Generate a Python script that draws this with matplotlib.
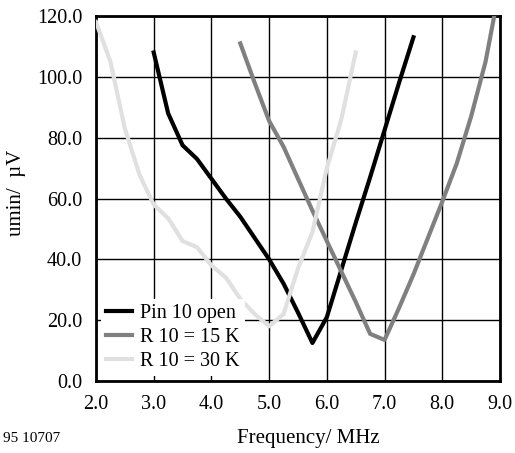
import numpy as np
import matplotlib
matplotlib.use('Agg')
from matplotlib import pyplot as plt

plt.rcParams['font.family'] = ['Liberation Serif', 'DejaVu Serif']

# Pin 10 open
freq_open = [3.0, 3.25, 3.5, 3.75, 4.0, 4.25, 4.5, 4.75, 5.0, 5.25, 5.5, 5.75,
             6.0, 6.25, 6.5, 6.75, 7.0, 7.25, 7.5]
umin_open = [108, 88, 77.5, 73, 66.5, 60, 54, 47, 40, 32, 22.5, 12.5,
             21, 36.5, 52, 67, 82.5, 98, 113]

# R 10 = 15 K
freq_15k = [4.5, 4.75, 5.0, 5.25, 5.5, 5.75, 6.0, 6.25, 6.5, 6.75, 7.0,
            7.25, 7.5, 7.75, 8.0, 8.25, 8.5, 8.75, 8.9]
umin_15k = [111, 98, 85.5, 77, 66.5, 56, 46, 36, 26, 15.5, 13.5,
            24, 35, 47, 59, 71.5, 87, 105, 120]

# R 10 = 30 K
freq_30k = [2.0, 2.25, 2.5, 2.75, 3.0, 3.25, 3.5, 3.75, 4.0, 4.25, 4.5, 4.75,
            5.0, 5.25, 5.5, 5.75, 6.0, 6.25, 6.5]
umin_30k = [118, 105, 83, 68, 58, 53.5, 46, 44, 38, 34, 27, 22,
            18, 22, 37, 49, 70, 86, 108]

x_ticks = np.arange(2.0, 9.01, 1.0)
y_ticks = np.arange(0.0, 120.01, 20.0)

fig = plt.figure(figsize=(5.15, 4.53), dpi=100)
ax = fig.add_axes([96 / 515, 1 - 381 / 453, 404 / 515, 365 / 453])

ax.plot(freq_open, umin_open, color='black', lw=3, label='Pin 10 open', zorder=3)
ax.plot(freq_15k, umin_15k, color='#808080', lw=3, label='R 10 = 15 K', zorder=3)
ax.plot(freq_30k, umin_30k, color='#e0e0e0', lw=3, label='R 10 = 30 K', zorder=3)

ax.set_xlim(2.0, 9.0)
ax.set_ylim(0.0, 120.0)
ax.set_xticks(x_ticks)
ax.set_yticks(y_ticks)
ax.set_xticklabels(['%.1f' % v for v in x_ticks])
ax.set_yticklabels(['%.1f' % v for v in y_ticks])
ax.tick_params(axis='x', length=0, pad=10, labelsize=14.5)
ax.tick_params(axis='y', length=0, pad=10, labelsize=14.5)
ax.grid(True, color='black', lw=1)
ax.set_axisbelow(True)
for s in ax.spines.values():
    s.set_linewidth(2)

leg = ax.legend(loc='lower left', bbox_to_anchor=(0.0, 0.0), fontsize=14.5,
                frameon=True, fancybox=False, edgecolor='none', facecolor='white',
                framealpha=1, borderpad=0.25, borderaxespad=0.25,
                handlelength=1.3, handletextpad=0.4, labelspacing=0.25)
leg.set_zorder(4)

fig.text(16 / 515, 1 - 193 / 453, 'umin/  µV', rotation=90, ha='center', va='center', fontsize=15)
fig.text(308 / 515, 1 - 438 / 453, 'Frequency/ MHz', ha='center', va='center', fontsize=15)
fig.text(3 / 515, 1 - 438 / 453, '95 10707', ha='left', va='center', fontsize=11)

fig.savefig('out.png', dpi=100)
